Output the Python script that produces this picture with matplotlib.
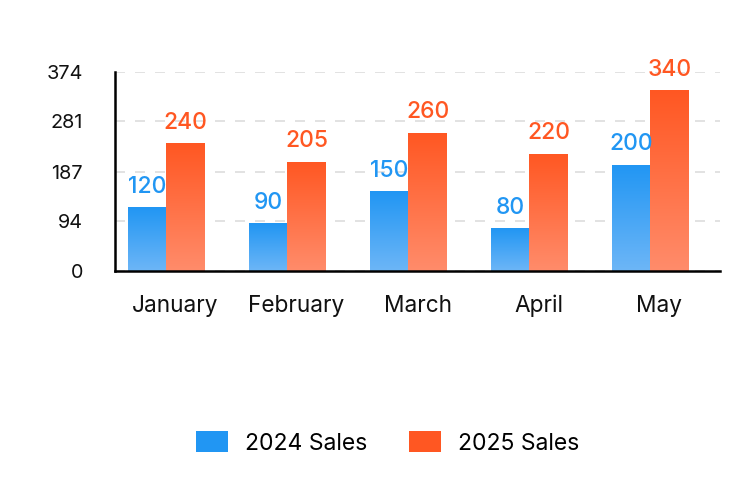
import matplotlib
matplotlib.use("Agg")
import matplotlib.pyplot as plt
import numpy as np
from matplotlib.colors import LinearSegmentedColormap
from matplotlib.patches import Patch

plt.rcParams['font.family'] = ['Inter', 'DejaVu Sans']

categories = ["January", "February", "March", "April", "May"]
sales_2024 = [120, 90, 150, 80, 200]
sales_2025 = [240, 205, 260, 220, 340]
series_names = ["2024 Sales", "2025 Sales"]
y_ticks = [0, 94, 187, 281, 374]
y_max = 374

colors_top = ["#2196F3", "#FF5722"]
colors_bottom = ["#6DB6F7", "#FF8C6B"]

fig = plt.figure(figsize=(7.48, 4.96), dpi=100)
ax = fig.add_axes([115/748, 1-271/496, 605/748, 199/496])

x = np.arange(len(categories))
w = 0.32
shift = -0.075
grad = np.linspace(0, 1, 256).reshape(-1, 1)

for si, vals in enumerate([sales_2024, sales_2025]):
    offs = shift + (-w/2 if si == 0 else w/2)
    cmap = LinearSegmentedColormap.from_list("g%d" % si, [colors_bottom[si], colors_top[si]])
    bars = ax.bar(x + offs, vals, width=w, color="none", edgecolor="none", zorder=3)
    for b, v in zip(bars, vals):
        x0 = b.get_x()
        im = ax.imshow(grad, extent=[x0, x0 + w, 0, v], origin="lower",
                       aspect="auto", cmap=cmap, zorder=3)
        im.set_clip_path(b)
        ax.annotate(str(v), (b.get_x() + w/2, v), xytext=(0, 10.5), textcoords="offset points",
                    ha="center", va="baseline", fontsize=16.5, fontweight="medium",
                    color=colors_top[si], zorder=5, annotation_clip=False)

ax.set_xlim(-0.5, len(categories) - 0.5)
ax.set_ylim(0, y_max)
ax.set_yticks(y_ticks)
ax.set_xticks(x)
ax.set_xticklabels(categories)
ax.tick_params(axis="both", length=0, labelcolor="#111111")
ax.tick_params(axis="y", pad=23, labelsize=14.3)
ax.tick_params(axis="x", pad=17, labelsize=16.3)

for s in ["top", "right"]:
    ax.spines[s].set_visible(False)
for s in ["left", "bottom"]:
    ax.spines[s].set_linewidth(1.8)
    ax.spines[s].set_color("#000000")
    ax.spines[s].set_zorder(6)

ax.yaxis.grid(True, color="#dddddd", linestyle=(0, (6, 6)), linewidth=1.2, zorder=0)
ax.set_axisbelow(True)

handles = [Patch(facecolor=colors_top[0]), Patch(facecolor=colors_top[1])]
fig.legend(handles, series_names, loc="center", bbox_to_anchor=(387.5/748, 1-443/496),
           ncol=2, frameon=False, fontsize=16.5, handlelength=1.4, handleheight=1.0,
           handletextpad=0.75, columnspacing=1.8, borderpad=0)

fig.savefig("out.png", dpi=100)
